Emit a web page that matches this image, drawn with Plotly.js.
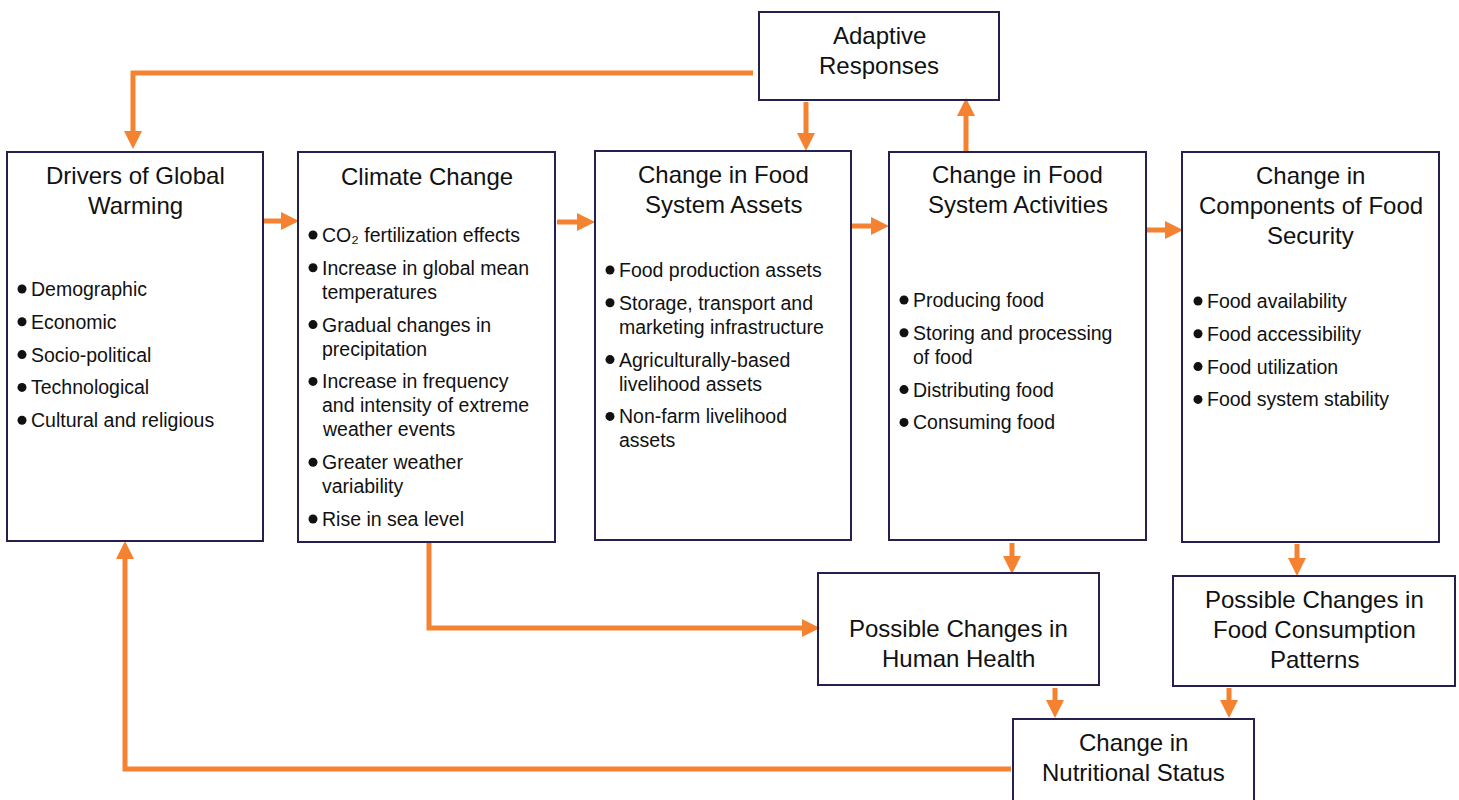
<!DOCTYPE html>
<html>
<head>
<meta charset="utf-8">
<script src="https://cdn.plot.ly/plotly-3.0.1.min.js"></script>
<style>html,body{margin:0;padding:0;background:#fff;}#chart{width:1459px;height:800px;}</style>
</head>
<body>
<div id="chart"></div>
<script>
// ---------- content ----------
const boxTitles = [
  "Drivers of Global<br>Warming",
  "Climate Change",
  "Change in Food<br>System Assets",
  "Change in Food<br>System Activities",
  "Change in<br>Components of Food<br>Security",
  "Adaptive<br>Responses",
  "Possible Changes in<br>Human Health",
  "Possible Changes in<br>Food Consumption<br>Patterns",
  "Change in<br>Nutritional Status"
];
const driversItems = ["Demographic", "Economic", "Socio-political", "Technological", "Cultural and religious"];
const climateItems = [
  "CO\u2082 fertilization effects",
  "Increase in global mean<br>temperatures",
  "Gradual changes in<br>precipitation",
  "Increase in frequency<br>and intensity of extreme<br>weather events",
  "Greater weather<br>variability",
  "Rise in sea level"
];
const assetsItems = [
  "Food production assets",
  "Storage, transport and<br>marketing infrastructure",
  "Agriculturally-based<br>livelihood assets",
  "Non-farm livelihood<br>assets"
];
const activitiesItems = [
  "Producing food",
  "Storing and processing<br>of food",
  "Distributing food",
  "Consuming food"
];
const securityItems = [
  "Food availability",
  "Food accessibility",
  "Food utilization",
  "Food system stability"
];
const boxItems = [driversItems, climateItems, assetsItems, activitiesItems, securityItems, [], [], [], []];

// ---------- layout geometry (pixel-like coordinates) ----------
const boxRects = [
  [7, 152, 263, 541],
  [298, 152, 555, 542],
  [595, 151, 851, 540],
  [889, 152, 1146, 540],
  [1182, 152, 1439, 542],
  [759, 12, 999, 100],
  [818, 573, 1099, 685],
  [1173, 576, 1455, 686],
  [1013, 719, 1254, 806]
];
const titleY = [175, 176, 174, 174, 175, 35, 628, 599, 742];
const itemStartY = [289, 235, 270, 300, 301];
const itemTextX = [29, 320, 617, 911, 1205];

// connectors: list of points, last point is arrow tip
const connectors = [
  [[753, 73], [133, 73], [133, 149]],
  [[264, 221], [299, 221]],
  [[557, 222], [595, 222]],
  [[852, 226], [889, 226]],
  [[1147, 230], [1183, 230]],
  [[806, 102], [806, 151]],
  [[966, 151], [966, 98]],
  [[429, 543], [429, 628], [820, 628]],
  [[1012, 543], [1012, 574]],
  [[1297, 544], [1297, 576]],
  [[1055, 688], [1055, 718]],
  [[1229, 688], [1229, 718]],
  [[1011, 769], [125, 769], [125, 541]]
];

// ---------- styles ----------
const ORANGE = "#F58231";
const NAVY = "#25214F";
const TEXT = "#111111";
const FONT = "Liberation Sans, Arial, sans-serif";
const TITLE_SIZE = 24, TITLE_LH = 30;
const ITEM_SIZE = 19.5, ITEM_LH = 24, ITEM_GAP = 32.8;
const HEAD_LEN = 18, HEAD_HALF = 9, LINE_W = 5;

const shapes = [];
const annotations = [];

// boxes
boxRects.forEach(r => {
  shapes.push({type: "rect", xref: "x", yref: "y", x0: r[0], y0: r[1], x1: r[2], y1: r[3],
    line: {color: NAVY, width: 2}, fillcolor: "rgba(0,0,0,0)", layer: "above"});
});

// titles
boxTitles.forEach((t, i) => {
  const r = boxRects[i];
  const cx = (r[0] + r[2]) / 2;
  t.split("<br>").forEach((line, k) => {
    annotations.push({x: cx, y: titleY[i] + k * TITLE_LH, xref: "x", yref: "y", text: line,
      showarrow: false, xanchor: "center", yanchor: "middle",
      font: {family: FONT, size: TITLE_SIZE, color: TEXT}});
  });
});

// bullet items
const bulletX = [], bulletY = [];
boxItems.forEach((items, i) => {
  if (!items.length) return;
  let y = itemStartY[i];
  items.forEach(item => {
    const lines = item.split("<br>");
    bulletX.push(itemTextX[i] - 7);
    bulletY.push(y);
    lines.forEach((line, k) => {
      annotations.push({x: itemTextX[i], y: y + k * ITEM_LH, xref: "x", yref: "y", text: line,
        showarrow: false, xanchor: "left", yanchor: "middle",
        font: {family: FONT, size: ITEM_SIZE, color: TEXT}});
    });
    y += (lines.length - 1) * ITEM_LH + ITEM_GAP;
  });
});

// connectors
connectors.forEach(pts => {
  const n = pts.length;
  const tip = pts[n - 1], prev = pts[n - 2];
  const dx = tip[0] - prev[0], dy = tip[1] - prev[1];
  const len = Math.hypot(dx, dy);
  const ux = dx / len, uy = dy / len;
  const base = [tip[0] - ux * HEAD_LEN, tip[1] - uy * HEAD_LEN];
  let d = "M " + pts[0][0] + "," + pts[0][1];
  for (let k = 1; k < n - 1; k++) d += " L " + pts[k][0] + "," + pts[k][1];
  d += " L " + (base[0] + ux * 1) + "," + (base[1] + uy * 1);
  shapes.push({type: "path", xref: "x", yref: "y", path: d, line: {color: ORANGE, width: LINE_W}, layer: "below"});
  const px = -uy, py = ux;
  const h = "M " + tip[0] + "," + tip[1] +
    " L " + (base[0] + px * HEAD_HALF) + "," + (base[1] + py * HEAD_HALF) +
    " L " + (base[0] - px * HEAD_HALF) + "," + (base[1] - py * HEAD_HALF) + " Z";
  shapes.push({type: "path", xref: "x", yref: "y", path: h, fillcolor: ORANGE, line: {color: ORANGE, width: 0}, layer: "below"});
});

const traces = [{
  type: "scatter", mode: "markers", x: bulletX, y: bulletY, hoverinfo: "skip",
  marker: {size: 9, color: TEXT}, showlegend: false
}];

const layout = {
  width: 1459, height: 800,
  margin: {l: 0, r: 0, t: 0, b: 0},
  paper_bgcolor: "#ffffff", plot_bgcolor: "#ffffff",
  xaxis: {range: [0, 1459], visible: false, fixedrange: true},
  yaxis: {range: [800, 0], visible: false, fixedrange: true},
  shapes: shapes, annotations: annotations, showlegend: false
};

Plotly.newPlot("chart", traces, layout, {staticPlot: true, displayModeBar: false});
</script>
</body>
</html>
